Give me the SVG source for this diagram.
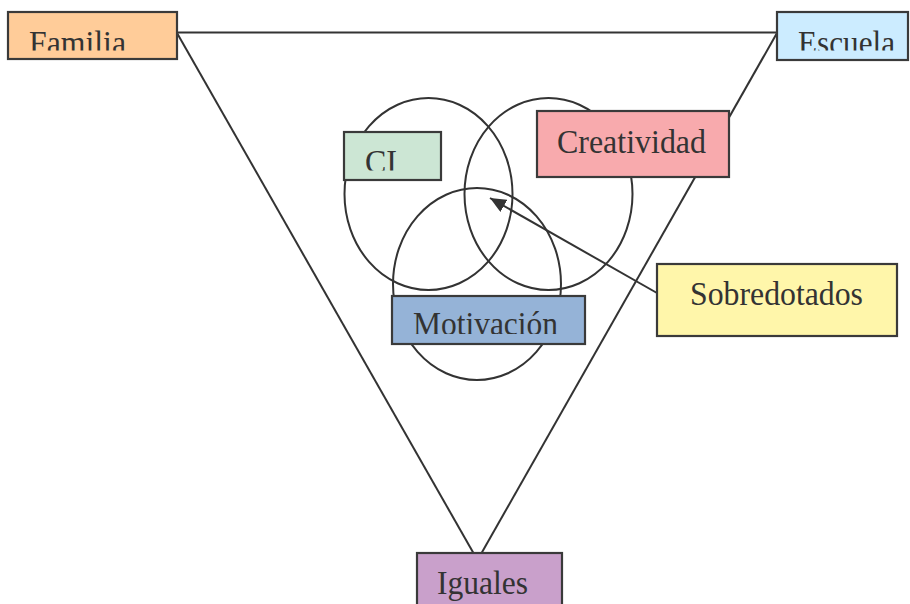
<svg xmlns="http://www.w3.org/2000/svg" width="910" height="604" viewBox="0 0 910 604">
<style>
.box{stroke:#3a3a3a;stroke-width:2.2}
.lbl{font-size:33px;fill:#333333}
.ring{fill:none;stroke:#333333;stroke-width:2}
.edge{fill:none;stroke:#333333;stroke-width:2}
</style>
<defs>
<marker id="ah" viewBox="0 0 16 14" refX="16" refY="7" markerWidth="16" markerHeight="14" markerUnits="userSpaceOnUse" orient="auto">
<path d="M0,0 L16,7 L0,14 z" fill="#333333"/>
</marker>
<clipPath id="cFam"><rect x="8" y="12" width="169" height="38.5"/></clipPath>
<clipPath id="cEsc"><rect x="777" y="12" width="131" height="38.5"/></clipPath>
<clipPath id="cCI"><rect x="344" y="132" width="97" height="38.5"/></clipPath>
<clipPath id="cMot"><rect x="392" y="296" width="193" height="38"/></clipPath>
</defs>
<rect width="910" height="604" fill="#ffffff"/>
<g id="circles">
<ellipse class="ring" cx="428.5" cy="194" rx="84" ry="96"/>
<ellipse class="ring" cx="548.5" cy="194" rx="84" ry="96"/>
<ellipse class="ring" cx="477" cy="284" rx="84" ry="96"/>
</g>
<g id="connectors">
<line class="edge" x1="177" y1="32.5" x2="777" y2="32.5"/>
<line class="edge" x1="177" y1="33" x2="474" y2="554"/>
<line class="edge" x1="777" y1="33" x2="481" y2="554"/>
<line class="edge" x1="657" y1="293" x2="490" y2="198" marker-end="url(#ah)"/>
</g>
<g font-family="'Liberation Serif', 'Times New Roman', 'DejaVu Serif', serif">
<g id="familia">
<rect class="box" x="8" y="12" width="169" height="47" fill="#FFCC99"/>
<text class="lbl" x="29" y="53.5" clip-path="url(#cFam)" textLength="97" lengthAdjust="spacingAndGlyphs">Familia</text>
</g>
<g id="escuela">
<rect class="box" x="777" y="12" width="131" height="48" fill="#CCECFF"/>
<text class="lbl" x="798" y="53.5" clip-path="url(#cEsc)" textLength="97" lengthAdjust="spacingAndGlyphs">Escuela</text>
</g>
<g id="ci">
<rect class="box" x="344" y="132" width="97" height="48" fill="#CCE6D4"/>
<text class="lbl" x="365" y="172.5" clip-path="url(#cCI)" textLength="32" lengthAdjust="spacingAndGlyphs">CI</text>
</g>
<g id="creatividad">
<rect class="box" x="537" y="111" width="192" height="66" fill="#F8AAAD"/>
<text class="lbl" x="557" y="152.5" textLength="149" lengthAdjust="spacingAndGlyphs">Creatividad</text>
</g>
<g id="motivacion">
<rect class="box" x="392" y="296" width="193" height="48" fill="#95B3D7"/>
<text class="lbl" x="413" y="335" clip-path="url(#cMot)" textLength="145" lengthAdjust="spacingAndGlyphs">Motivación</text>
</g>
<g id="sobredotados">
<rect class="box" x="657" y="264" width="240" height="72" fill="#FFF6AA"/>
<text class="lbl" x="690" y="305" textLength="173" lengthAdjust="spacingAndGlyphs">Sobredotados</text>
</g>
<g id="iguales">
<rect class="box" x="417" y="553" width="145" height="60" fill="#C9A0CB"/>
<text class="lbl" x="437" y="593.5" textLength="91" lengthAdjust="spacingAndGlyphs">Iguales</text>
</g>
</g>
</svg>
